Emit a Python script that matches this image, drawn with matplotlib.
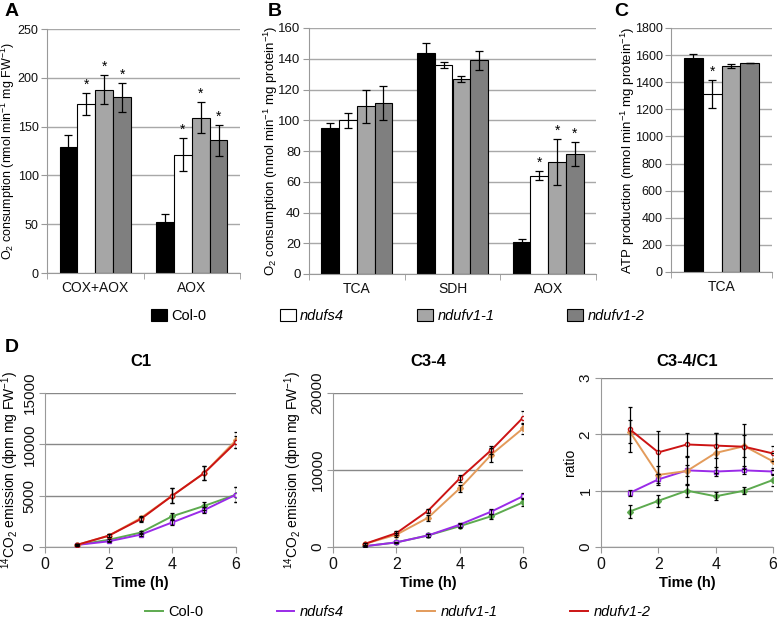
import numpy as np
import matplotlib.pyplot as plt
from matplotlib.patches import Patch
from matplotlib.lines import Line2D

plt.rcParams['font.family'] = ['Liberation Sans', 'DejaVu Sans']
plt.rcParams['font.size'] = 9.5
plt.rcParams['mathtext.fontset'] = 'custom'
plt.rcParams['mathtext.rm'] = 'Liberation Sans'
plt.rcParams['mathtext.it'] = 'Liberation Sans:italic'
plt.rcParams['mathtext.bf'] = 'Liberation Sans:bold'
plt.rcParams['mathtext.default'] = 'regular'

W, H = 777, 620

genotypes = ['Col-0', 'ndufs4', 'ndufv1-1', 'ndufv1-2']
bar_colors = ['#000000', '#FFFFFF', '#A6A6A6', '#7F7F7F']
line_colors = ['#5DAA4F', '#9A2BE8', '#E39B5B', '#CC1414']
line_markers = ['D', 's', 'D', 'o']

# Panel A
a_cats = ['COX+AOX', 'AOX']
a_vals = [[129, 52], [173, 121], [188, 159], [180, 136]]
a_errs = [[12, 8], [11, 17], [15, 16], [15, 16]]
a_star = [[False, False], [True, True], [True, True], [True, True]]

# Panel B
b_cats = ['TCA', 'SDH', 'AOX']
b_vals = [[95, 144, 21], [100, 136, 64], [109, 127, 73], [111, 139, 78]]
b_errs = [[3, 6, 2], [5, 2, 3], [11, 2, 15], [11, 6, 8]]
b_star = [[False, False, False], [False, False, True], [False, False, True], [False, False, True]]

# Panel C
c_cats = ['TCA']
c_vals = [[1575], [1315], [1520], [1540]]
c_errs = [[35], [105], [15], [0]]
c_star = [[False], [True], [False], [False]]

# Panel D
time_h = [1, 2, 3, 4, 5, 6]
c1_vals = [[200, 700, 1400, 3000, 4000, 5100],
           [200, 550, 1200, 2400, 3600, 5100],
           [200, 1100, 2800, 5000, 7200, 10400],
           [200, 1100, 2700, 5000, 7200, 10200]]
c1_errs = [[50, 100, 150, 300, 350, 700],
           [50, 80, 120, 250, 300, 700],
           [60, 150, 250, 700, 700, 800],
           [60, 150, 250, 700, 700, 600]]
c34_vals = [[100, 600, 1500, 2700, 4000, 5800],
            [100, 600, 1500, 2900, 4600, 6600],
            [400, 1600, 3800, 7600, 12000, 15400],
            [400, 1800, 4700, 8900, 12600, 16800]]
c34_errs = [[50, 80, 150, 250, 300, 500],
            [50, 80, 150, 250, 300, 400],
            [80, 250, 400, 400, 900, 700],
            [80, 300, 300, 500, 500, 800]]
ratio_vals = [[0.63, 0.82, 1.00, 0.90, 1.00, 1.19],
              [0.96, 1.20, 1.36, 1.34, 1.36, 1.34],
              [2.05, 1.28, 1.35, 1.67, 1.79, 1.52],
              [2.09, 1.68, 1.82, 1.80, 1.78, 1.66]]
ratio_errs = [[0.12, 0.11, 0.11, 0.07, 0.06, 0.1],
              [0.05, 0.1, 0.1, 0.08, 0.07, 0.06],
              [0.2, 0.15, 0.25, 0.35, 0.2, 0.15],
              [0.4, 0.38, 0.2, 0.22, 0.4, 0.14]]

fig = plt.figure(figsize=(W / 100, H / 100), dpi=100)


def rect(x0, y0, x1, y1):
    return [x0 / W, 1 - y1 / H, (x1 - x0) / W, (y1 - y0) / H]


def set_ylabel_px(ax, x0, x1, xpx, text, size):
    # place the y label centre at a given figure pixel x
    ax.set_ylabel(text, fontsize=size, va='center')
    ax.yaxis.set_label_coords((xpx - x0) / (x1 - x0), 0.5)


def style_axes(ax, grid_color):
    for s in ['top', 'right']:
        ax.spines[s].set_visible(False)
    for s in ['left', 'bottom']:
        ax.spines[s].set_color('#999999')
    ax.tick_params(colors='#999999', labelcolor='#111111', length=4, pad=2)
    ax.set_axisbelow(True)
    ax.yaxis.grid(True, color=grid_color, linewidth=1)


def bar_panel(ax, cats, vals, errs, stars, ymax, ystep):
    style_axes(ax, '#A8A8A8')
    n = len(cats)
    x = np.arange(n)
    w = 0.185
    offs = (np.arange(4) - 1.5) * w
    for g in range(4):
        ax.bar(x + offs[g], vals[g], w, color=bar_colors[g], edgecolor='black',
               linewidth=0.8, zorder=2)
        ax.errorbar(x + offs[g], vals[g], yerr=errs[g], fmt='none', ecolor='black',
                    elinewidth=0.9, capsize=3, capthick=0.9, zorder=3)
        for i in range(n):
            if stars[g][i]:
                ax.text(x[i] + offs[g], vals[g][i] + errs[g][i] + ymax * 0.005, '*',
                        ha='center', va='bottom', fontsize=10)
    ax.set_xlim(-0.5, n - 0.5)
    ax.set_ylim(0, ymax)
    ax.set_yticks(np.arange(0, ymax + 1, ystep))
    ax.set_xticks(x)
    ax.set_xticklabels(cats, fontsize=10)
    ax.tick_params(axis='x', length=0, pad=6)
    ax.set_xticks(np.arange(n + 1) - 0.5, minor=True)
    ax.tick_params(axis='x', which='minor', length=4, colors='#999999')
    ax.tick_params(axis='y', labelsize=9.5)


axA = fig.add_axes(rect(47, 29, 240, 273))
bar_panel(axA, a_cats, a_vals, a_errs, a_star, 250, 50)
axA.tick_params(axis='y', labelsize=9)
set_ylabel_px(axA, 47, 240, 8, 'O$_2$ consumption (nmol min$^{-1}$ mg FW$^{-1}$)', 9)

axB = fig.add_axes(rect(309, 28, 596, 274))
bar_panel(axB, b_cats, b_vals, b_errs, b_star, 160, 20)
set_ylabel_px(axB, 309, 596, 271, 'O$_2$ consumption (nmol min$^{-1}$ mg protein$^{-1}$)', 9.5)

axC = fig.add_axes(rect(671, 28, 772, 272))
bar_panel(axC, c_cats, c_vals, c_errs, c_star, 1800, 200)
axC.tick_params(axis='y', labelsize=9)
set_ylabel_px(axC, 671, 772, 628, 'ATP production (nmol min$^{-1}$ mg protein$^{-1}$)', 9.5)

fig.text(5 / W, 1 - 12 / H, 'A', fontsize=14, fontweight='bold', va='center')
fig.text(268 / W, 1 - 12 / H, 'B', fontsize=14, fontweight='bold', va='center')
fig.text(614 / W, 1 - 12 / H, 'C', fontsize=14, fontweight='bold', va='center')
fig.text(5 / W, 1 - 347 / H, 'D', fontsize=14, fontweight='bold', va='center')

# top legend
handles = [Patch(facecolor=bar_colors[g], edgecolor='black', linewidth=0.8) for g in range(4)]
leg = fig.legend(handles, genotypes, loc='center', bbox_to_anchor=(398 / W, 1 - 316 / H),
                 ncol=4, frameon=False, columnspacing=5.0, handlelength=1.1,
                 handleheight=0.9, handletextpad=0.3, fontsize=10.5)
for t in leg.get_texts()[1:]:
    t.set_fontstyle('italic')


def line_panel(ax, vals, errs, ymax, ystep):
    style_axes(ax, '#888888')
    for g in range(4):
        ax.plot(time_h, vals[g], color=line_colors[g], linewidth=1.4,
                marker=line_markers[g], markersize=3,
                markerfacecolor='white' if line_markers[g] in ('s', 'o') else line_colors[g],
                markeredgecolor=line_colors[g], markeredgewidth=1, zorder=3)
        ax.errorbar(time_h, vals[g], yerr=errs[g], fmt='none', ecolor='black',
                    elinewidth=0.9, capsize=1.5, capthick=0.9, zorder=4)
    ax.set_xlim(0, 6)
    ax.set_ylim(0, ymax)
    ax.set_xticks([0, 2, 4, 6])
    ax.set_yticks(np.arange(0, ymax + 1, ystep))
    ax.tick_params(axis='x', labelsize=11.5, pad=3)
    ax.tick_params(axis='y', labelsize=11, labelrotation=90, pad=2)
    for lab in ax.get_yticklabels():
        lab.set_va('center')
    ax.set_xlabel('Time (h)', fontweight='bold', fontsize=10.5, labelpad=3)


d_title_y = 1 - 362 / H
emis_label = '$^{14}$CO$_2$ emission (dpm mg FW$^{-1}$)'

axD1 = fig.add_axes(rect(45, 393, 236, 547))
line_panel(axD1, c1_vals, c1_errs, 15000, 5000)
set_ylabel_px(axD1, 45, 236, 10, emis_label, 10)
fig.text((45 + 236) / 2 / W, d_title_y, 'C1', fontweight='bold', fontsize=12, ha='center', va='center')

axD2 = fig.add_axes(rect(333, 393, 523, 547))
line_panel(axD2, c34_vals, c34_errs, 20000, 10000)
set_ylabel_px(axD2, 333, 523, 293, emis_label, 10)
fig.text((333 + 523) / 2 / W, d_title_y, 'C3-4', fontweight='bold', fontsize=12, ha='center', va='center')

axD3 = fig.add_axes(rect(601, 378, 773, 547))
line_panel(axD3, ratio_vals, ratio_errs, 3, 1)
set_ylabel_px(axD3, 601, 773, 570, 'ratio', 10)
fig.text((601 + 773) / 2 / W, d_title_y, 'C3-4/C1', fontweight='bold', fontsize=12, ha='center', va='center')

lhandles = [Line2D([0], [0], color=line_colors[g], linewidth=1.4) for g in range(4)]
leg2 = fig.legend(lhandles, genotypes, loc='center', bbox_to_anchor=(398 / W, 1 - 612 / H),
                  ncol=4, frameon=False, columnspacing=5.0, handlelength=1.2,
                  handletextpad=0.4, fontsize=10.5)
for t in leg2.get_texts()[1:]:
    t.set_fontstyle('italic')

fig.savefig('out.png', dpi=100)
